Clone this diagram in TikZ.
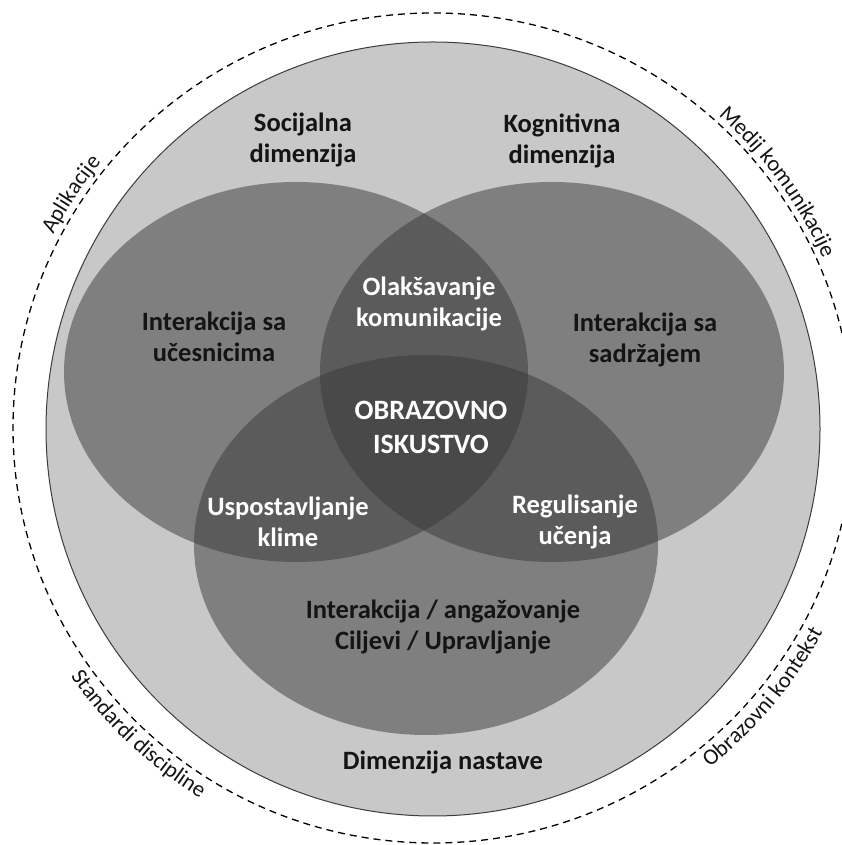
\documentclass[tikz,border=0pt]{standalone}
\usepackage{fontspec}
\setmainfont{Carlito}
\usetikzlibrary{decorations.text}
\definecolor{outerfill}{HTML}{C8C8C8}
\definecolor{outerline}{HTML}{3C3C3C}
\definecolor{ellfill}{HTML}{383838}
\definecolor{inktext}{HTML}{141414}
\begin{document}
\begin{tikzpicture}[x=1pt,y=1pt,
  venn/.style={fill=ellfill,fill opacity=0.5,draw=none},
  darklabel/.style={align=center,font=\fontsize{26.5}{31.5}\selectfont\bfseries,text=inktext,inner sep=0pt},
  lightlabel/.style={align=center,font=\fontsize{26.5}{31.5}\selectfont\bfseries,text=white,inner sep=0pt},
  outerlabel/.style={decorate,decoration={text along path,text align=center}},
  ring/.style={draw=black,line width=1.3pt,dash pattern=on 7pt off 5pt},
  disk/.style={fill=outerfill,draw=outerline,line width=1pt},
]
\useasboundingbox (0,0) rectangle (841,845);
\coordinate (c) at (433,417);
% dashed outer ring
\draw[ring] (c) ellipse [x radius=420,y radius=415];
% big gray disk
\draw[disk] (433,416) circle [radius=387];
% three ellipses
\fill[venn] (296,473) ellipse [x radius=232,y radius=190];
\fill[venn] (552,473) ellipse [x radius=232,y radius=190];
\fill[venn] (426,300) ellipse [x radius=232,y radius=190];
% labels
\node[darklabel] (soc) at (303,705) {Socijalna\\dimenzija};
\node[darklabel] (kog) at (562,704) {Kognitivna\\dimenzija};
\node[darklabel] (ucs) at (214,508) {Interakcija sa\\učesnicima};
\node[lightlabel] (olk) at (429,541) {Olakšavanje\\komunikacije};
\node[darklabel] (sdr) at (645,505) {Interakcija sa\\sadržajem};
\node[lightlabel,font=\fontsize{28}{34}\selectfont\bfseries] (obr) at (431,418) {OBRAZOVNO\\ISKUSTVO};
\node[lightlabel] (usp) at (288,323) {Uspostavljanje\\klime};
\node[lightlabel] (reg) at (575,323) {Regulisanje\\učenja};
\node[darklabel] (int) at (443,218) {Interakcija / angažovanje\\Ciljevi / Upravljanje};
\node[darklabel] (nas) at (443,83) {Dimenzija nastave};
% outer curved labels
\path[outerlabel,decoration={text={|\color{inktext}\fontsize{22.5}{27}\selectfont|Aplikacije}}]
  (c) ++(166.9:427 and 422) arc[start angle=166.9,end angle=126.9,x radius=427,y radius=422];
\path[outerlabel,decoration={text={|\color{inktext}\fontsize{22.5}{27}\selectfont|Medij komunikacije}}]
  (c) ++(55.8:426 and 421) arc[start angle=55.8,end angle=15.8,x radius=426,y radius=421];
\path[outerlabel,decoration={text={|\color{inktext}\fontsize{22.5}{27}\selectfont|Standardi discipline}}]
  (c) ++(206.4:441 and 436) arc[start angle=206.4,end angle=246.4,x radius=441,y radius=436];
\path[outerlabel,decoration={text={|\color{inktext}\fontsize{22.5}{27}\selectfont|Obrazovni kontekst}}]
  (c) ++(-59.5:441 and 436) arc[start angle=-59.5,end angle=-19.5,x radius=441,y radius=436];
\end{tikzpicture}
\end{document}
